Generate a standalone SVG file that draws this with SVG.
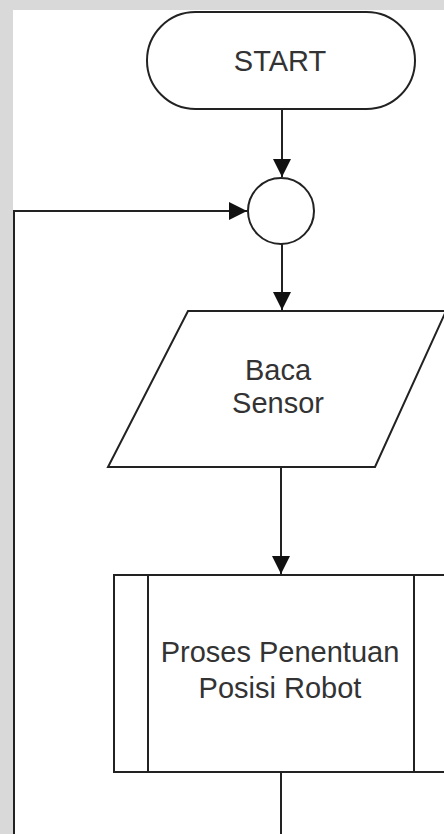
<svg xmlns="http://www.w3.org/2000/svg" width="444" height="834" viewBox="0 0 444 834">
  <style>
    .shape { fill: #ffffff; stroke: #222222; stroke-width: 2; }
    .edge { fill: none; stroke: #222222; stroke-width: 2; }
    .label { font-family: "Liberation Sans", Arial, sans-serif; font-size: 29px; fill: #333333; text-anchor: middle; }
  </style>
  <defs>
    <marker id="arrow" markerWidth="18" markerHeight="18" refX="18" refY="9" orient="auto" markerUnits="userSpaceOnUse">
      <path d="M0,0 L18,9 L0,18 Z" fill="#111111"/>
    </marker>
  </defs>
  <rect x="0" y="0" width="444" height="834" fill="#ffffff"/>
  <g id="watermark" fill="#d9d9d9">
    <rect x="0" y="0" width="13" height="834"/>
    <rect x="0" y="0" width="444" height="10"/>
  </g>
  <g id="connectors">
    <line class="edge" x1="282" y1="110" x2="282" y2="177" marker-end="url(#arrow)"/>
    <polyline class="edge" points="14,834 14,211 247,211" marker-end="url(#arrow)"/>
    <line class="edge" x1="282" y1="244" x2="282" y2="310" marker-end="url(#arrow)"/>
    <line class="edge" x1="281" y1="468" x2="281" y2="574" marker-end="url(#arrow)"/>
    <line class="edge" x1="281" y1="772" x2="281" y2="834"/>
  </g>
  <g id="start">
    <rect class="shape" x="147" y="12" width="268" height="97" rx="48.5" ry="48.5"/>
    <text class="label" x="280" y="71">START</text>
  </g>
  <g id="connector-circle">
    <circle class="shape" cx="281" cy="211" r="33"/>
  </g>
  <g id="baca-sensor">
    <polygon class="shape" points="188,311 446,311 375,467 108,467"/>
    <text class="label" x="278" y="380">Baca</text>
    <text class="label" x="278" y="413">Sensor</text>
  </g>
  <g id="proses">
    <rect class="shape" x="114" y="575" width="340" height="197"/>
    <line class="edge" x1="148" y1="575" x2="148" y2="772"/>
    <line class="edge" x1="414" y1="575" x2="414" y2="772"/>
    <text class="label" x="280" y="662">Proses Penentuan</text>
    <text class="label" x="280" y="698">Posisi Robot</text>
  </g>
</svg>
